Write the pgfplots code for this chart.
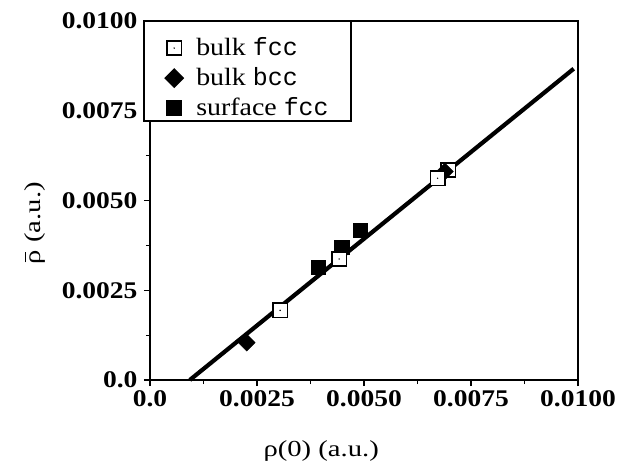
\documentclass[border=0pt]{standalone}
\usepackage{fontspec}
\setmainfont{Liberation Serif}[FakeStretch=1.12]
\newfontfamily\tickfont{Liberation Serif}[FakeStretch=1.15]
\newfontfamily\labfont{Liberation Serif}[FakeStretch=1.25]
\newfontfamily\monofont{Liberation Mono}
\usepackage{pgfplots}
\pgfplotsset{compat=1.18}
\usepackage{pgfplotstable}

\newcommand\rhobar{{\setbox0\hbox{ρ}\rlap{\hbox to\wd0{\hss\rule[0.62em]{0.75\wd0}{0.065em}\hss}}\box0}}

\pgfdeclareplotmark{sqdot}{%
  \pgfpathrectangle{\pgfqpoint{-\pgfplotmarksize}{-\pgfplotmarksize}}{\pgfqpoint{2\pgfplotmarksize}{2\pgfplotmarksize}}%
  \pgfusepathqfillstroke
  \begin{pgfscope}%
  \pgfpathcircle{\pgfpointorigin}{0.8pt}%
  \pgfsetfillcolor{black}\pgfusepathqfill
  \end{pgfscope}}

\pgfplotstableread{
x y
0.00304 0.00194
0.00442 0.00337
0.00672 0.00562
}\bulkfcc
\pgfplotstableread{
x y
0.00697 0.00585
}\bulkfccb
\pgfplotstableread{
x y
0.00226 0.00104
0.00689 0.00581
}\bulkbcc
\pgfplotstableread{
x y
0.00393 0.00314
0.00448 0.00370
0.00491 0.00417
}\surffcc

\begin{document}
\begin{tikzpicture}
\begin{axis}[
  name=ax,
  scale only axis,
  width=428bp, height=359bp,
  xmin=0, xmax=0.01, ymin=0, ymax=0.01,
  scaled ticks=false,
  xtick={0,0.0025,0.005,0.0075,0.01},
  ytick={0,0.0025,0.005,0.0075,0.01},
  xticklabels={0.0,0.0025,0.0050,0.0075,0.0100},
  yticklabels={0.0,0.0025,0.0050,0.0075,0.0100},
  minor x tick num=1, minor y tick num=1,
  tick align=outside,
  xtick pos=bottom, ytick pos=left,
  major tick length=6bp, minor tick length=4bp,
  every tick/.style={black, line width=1.2bp},
  axis line style={line width=1.3bp},
  tick label style={font=\tickfont\bfseries\fontsize{24}{26}\selectfont},
  x tick label style={yshift=-1bp},
  y tick label style={xshift=-3bp},
  xlabel={\labfont\fontsize{23}{26}\selectfont ρ(0) (a.u.)},
  ylabel={\labfont\fontsize{23}{26}\selectfont \rhobar{} (a.u.)},
  xlabel style={at={(axis description cs:0.40,-0.198)}, anchor=center},
  ylabel style={at={(axis description cs:-0.269,0.437)}, anchor=center},
  legend image code/.code={%
    \path (-8bp,-6bp) (20bp,6bp);
    \draw[#1, overlay] plot coordinates {(0bp,-7bp)};},
  legend style={at={(axis description cs:0,1)}, anchor=north west,
    xshift=-7bp, yshift=1bp, line width=2.2bp, draw=black,
    inner xsep=21bp, inner ysep=5bp, row sep=0bp,
    font=\fontsize{25}{27}\selectfont,
    nodes={inner sep=1bp, text height=28bp, text depth=0bp}},
  legend cell align=left,
  clip=false,
]
\addplot[no markers, line width=4.2bp, forget plot] coordinates {(0.00093,0) (0.0099,0.00867)};
\addlegendimage{only marks, mark=sqdot, mark size=7.2bp, mark options={fill=white, draw=black, line width=1.6bp}}
\addlegendentry{bulk {\monofont fcc}}
\addlegendimage{only marks, mark=square*, mark size=6bp, mark options={fill=black, draw=black, rotate=45}}
\addlegendentry{bulk {\monofont bcc}}
\addlegendimage{only marks, mark=square*, mark size=7.2bp, mark options={fill=black, draw=black}}
\addlegendentry{surface {\monofont fcc}\hspace{6bp}}
\addplot[forget plot, only marks, mark=sqdot, mark size=7.2bp, mark options={fill=white, draw=black, line width=1.6bp}] table[x=x,y=y] {\bulkfccb};
\addplot[forget plot, only marks, mark=square*, mark size=6bp, mark options={fill=black, draw=black, rotate=45}] table[x=x,y=y] {\bulkbcc};
\addplot[forget plot, only marks, mark=square*, mark size=7.4bp, mark options={fill=black, draw=black}] table[x=x,y=y] {\surffcc};
\addplot[forget plot, only marks, mark=sqdot, mark size=7.2bp, mark options={fill=white, draw=black, line width=1.6bp}] table[x=x,y=y] {\bulkfcc};
\end{axis}
\path ([shift={(-150bp,-85bp)}]ax.south west) rectangle ([shift={(45bp,21bp)}]ax.north east);
\end{tikzpicture}
\end{document}
